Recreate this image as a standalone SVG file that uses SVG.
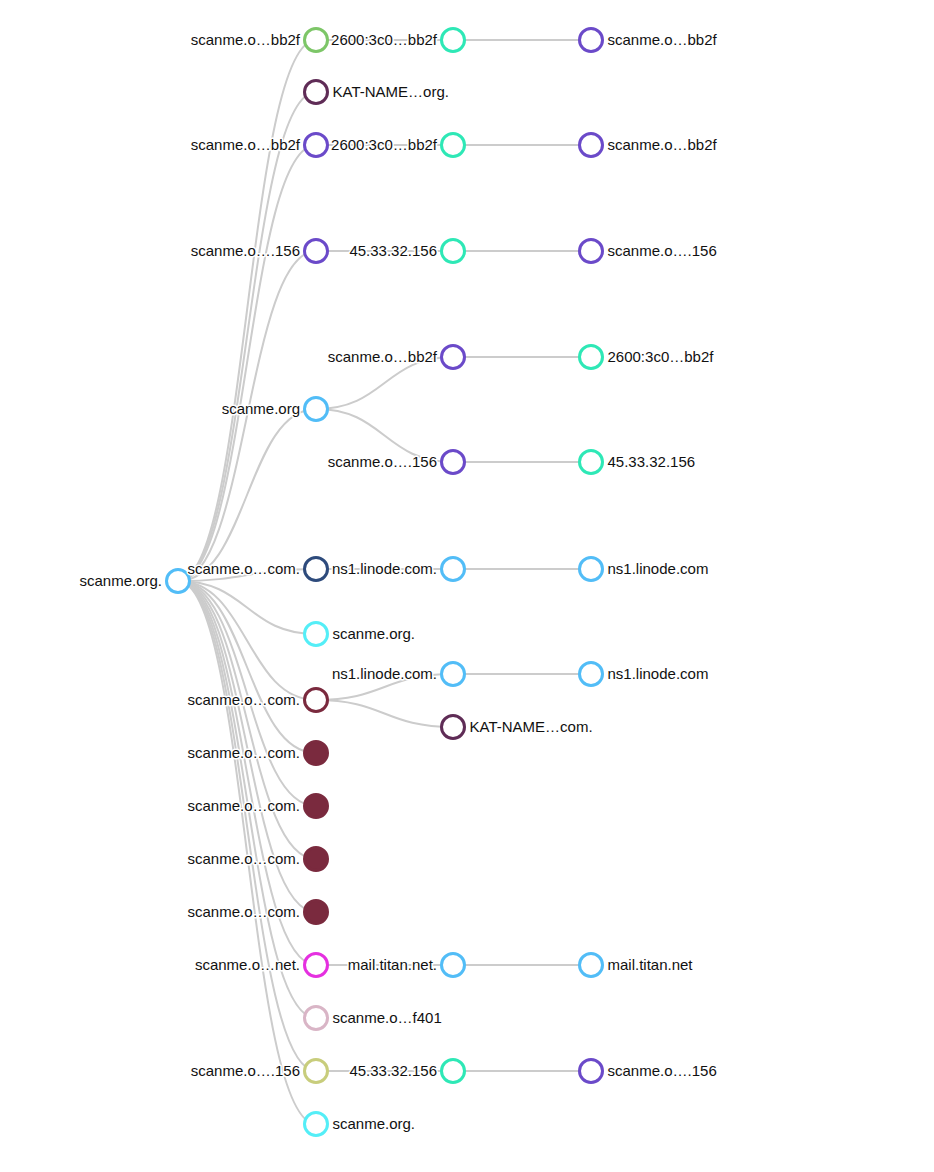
<svg xmlns="http://www.w3.org/2000/svg" width="934" height="1172" viewBox="0 0 934 1172">
<style>
.link{fill:none;stroke:#cccccc;stroke-width:2}
circle{stroke-width:3;fill:#ffffff}
text{font-family:"Liberation Sans",Arial,sans-serif;font-size:15px;fill:#111;paint-order:stroke;stroke:#ffffff;stroke-width:3px;stroke-linejoin:round}
.l{text-anchor:end}
.r{text-anchor:start}
.blue{stroke:#52bdf7}
.green{stroke:#7dc668}
.teal{stroke:#2ee8b6}
.purple{stroke:#6b4ac9}
.dpurple{stroke:#5f2c56}
.navy{stroke:#2e4b7c}
.cyan{stroke:#54eef7}
.maroon{stroke:#7a2a3e}
.mfill{stroke:#7a2a3e;fill:#7a2a3e}
.magenta{stroke:#e530e0}
.pink{stroke:#d9b5c6}
.olive{stroke:#c8cd7c}
</style>
<rect width="934" height="1172" fill="#ffffff"/>
<g id="links">
<path class="link" d="M178,581 C247,581 247,40 316,40"/>
<path class="link" d="M178,581 C247,581 247,92 316,92"/>
<path class="link" d="M178,581 C247,581 247,145 316,145"/>
<path class="link" d="M178,581 C247,581 247,251 316,251"/>
<path class="link" d="M178,581 C247,581 247,409 316,409"/>
<path class="link" d="M178,581 C247,581 247,569 316,569"/>
<path class="link" d="M178,581 C247,581 247,634 316,634"/>
<path class="link" d="M178,581 C247,581 247,700 316,700"/>
<path class="link" d="M178,581 C247,581 247,753 316,753"/>
<path class="link" d="M178,581 C247,581 247,806 316,806"/>
<path class="link" d="M178,581 C247,581 247,859 316,859"/>
<path class="link" d="M178,581 C247,581 247,912 316,912"/>
<path class="link" d="M178,581 C247,581 247,965 316,965"/>
<path class="link" d="M178,581 C247,581 247,1018 316,1018"/>
<path class="link" d="M178,581 C247,581 247,1071 316,1071"/>
<path class="link" d="M178,581 C247,581 247,1124 316,1124"/>
<path class="link" d="M316,40 L453,40"/>
<path class="link" d="M316,145 L453,145"/>
<path class="link" d="M316,251 L453,251"/>
<path class="link" d="M316,409 C384.5,409 384.5,357 453,357"/>
<path class="link" d="M316,409 C384.5,409 384.5,462 453,462"/>
<path class="link" d="M316,569 L453,569"/>
<path class="link" d="M316,700 C384.5,700 384.5,674 453,674"/>
<path class="link" d="M316,700 C384.5,700 384.5,727 453,727"/>
<path class="link" d="M316,965 L453,965"/>
<path class="link" d="M316,1071 L453,1071"/>
<path class="link" d="M453,40 L591,40"/>
<path class="link" d="M453,145 L591,145"/>
<path class="link" d="M453,251 L591,251"/>
<path class="link" d="M453,357 L591,357"/>
<path class="link" d="M453,462 L591,462"/>
<path class="link" d="M453,569 L591,569"/>
<path class="link" d="M453,674 L591,674"/>
<path class="link" d="M453,965 L591,965"/>
<path class="link" d="M453,1071 L591,1071"/>
</g>
<g id="n-root"><circle class="blue" cx="178" cy="581" r="11.5"/><text class="l" x="162" y="581" dy="0.35em">scanme.org.</text></g>
<g id="n1-40"><circle class="green" cx="316" cy="40" r="11.5"/><text class="l" x="300" y="40" dy="0.35em">scanme.o…bb2f</text></g>
<g id="n1-92"><circle class="dpurple" cx="316" cy="92" r="11.5"/><text class="r" x="332.5" y="92" dy="0.35em">KAT-NAME…org.</text></g>
<g id="n1-145"><circle class="purple" cx="316" cy="145" r="11.5"/><text class="l" x="300" y="145" dy="0.35em">scanme.o…bb2f</text></g>
<g id="n1-251"><circle class="purple" cx="316" cy="251" r="11.5"/><text class="l" x="300" y="251" dy="0.35em">scanme.o….156</text></g>
<g id="n1-409"><circle class="blue" cx="316" cy="409" r="11.5"/><text class="l" x="300" y="409" dy="0.35em">scanme.org</text></g>
<g id="n1-569"><circle class="navy" cx="316" cy="569" r="11.5"/><text class="l" x="300" y="569" dy="0.35em">scanme.o…com.</text></g>
<g id="n1-634"><circle class="cyan" cx="316" cy="634" r="11.5"/><text class="r" x="332.5" y="634" dy="0.35em">scanme.org.</text></g>
<g id="n1-700"><circle class="maroon" cx="316" cy="700" r="11.5"/><text class="l" x="300" y="700" dy="0.35em">scanme.o…com.</text></g>
<g id="n1-753"><circle class="mfill" cx="316" cy="753" r="11.5"/><text class="l" x="300" y="753" dy="0.35em">scanme.o…com.</text></g>
<g id="n1-806"><circle class="mfill" cx="316" cy="806" r="11.5"/><text class="l" x="300" y="806" dy="0.35em">scanme.o…com.</text></g>
<g id="n1-859"><circle class="mfill" cx="316" cy="859" r="11.5"/><text class="l" x="300" y="859" dy="0.35em">scanme.o…com.</text></g>
<g id="n1-912"><circle class="mfill" cx="316" cy="912" r="11.5"/><text class="l" x="300" y="912" dy="0.35em">scanme.o…com.</text></g>
<g id="n1-965"><circle class="magenta" cx="316" cy="965" r="11.5"/><text class="l" x="300" y="965" dy="0.35em">scanme.o…net.</text></g>
<g id="n1-1018"><circle class="pink" cx="316" cy="1018" r="11.5"/><text class="r" x="332.5" y="1018" dy="0.35em">scanme.o…f401</text></g>
<g id="n1-1071"><circle class="olive" cx="316" cy="1071" r="11.5"/><text class="l" x="300" y="1071" dy="0.35em">scanme.o….156</text></g>
<g id="n1-1124"><circle class="cyan" cx="316" cy="1124" r="11.5"/><text class="r" x="332.5" y="1124" dy="0.35em">scanme.org.</text></g>
<g id="n2-40"><circle class="teal" cx="453" cy="40" r="11.5"/><text class="l" x="437" y="40" dy="0.35em">2600:3c0…bb2f</text></g>
<g id="n2-145"><circle class="teal" cx="453" cy="145" r="11.5"/><text class="l" x="437" y="145" dy="0.35em">2600:3c0…bb2f</text></g>
<g id="n2-251"><circle class="teal" cx="453" cy="251" r="11.5"/><text class="l" x="437" y="251" dy="0.35em">45.33.32.156</text></g>
<g id="n2-357"><circle class="purple" cx="453" cy="357" r="11.5"/><text class="l" x="437" y="357" dy="0.35em">scanme.o…bb2f</text></g>
<g id="n2-462"><circle class="purple" cx="453" cy="462" r="11.5"/><text class="l" x="437" y="462" dy="0.35em">scanme.o….156</text></g>
<g id="n2-569"><circle class="blue" cx="453" cy="569" r="11.5"/><text class="l" x="437" y="569" dy="0.35em">ns1.linode.com.</text></g>
<g id="n2-674"><circle class="blue" cx="453" cy="674" r="11.5"/><text class="l" x="437" y="674" dy="0.35em">ns1.linode.com.</text></g>
<g id="n2-727"><circle class="dpurple" cx="453" cy="727" r="11.5"/><text class="r" x="469.5" y="727" dy="0.35em">KAT-NAME…com.</text></g>
<g id="n2-965"><circle class="blue" cx="453" cy="965" r="11.5"/><text class="l" x="437" y="965" dy="0.35em">mail.titan.net.</text></g>
<g id="n2-1071"><circle class="teal" cx="453" cy="1071" r="11.5"/><text class="l" x="437" y="1071" dy="0.35em">45.33.32.156</text></g>
<g id="n3-40"><circle class="purple" cx="591" cy="40" r="11.5"/><text class="r" x="607.5" y="40" dy="0.35em">scanme.o…bb2f</text></g>
<g id="n3-145"><circle class="purple" cx="591" cy="145" r="11.5"/><text class="r" x="607.5" y="145" dy="0.35em">scanme.o…bb2f</text></g>
<g id="n3-251"><circle class="purple" cx="591" cy="251" r="11.5"/><text class="r" x="607.5" y="251" dy="0.35em">scanme.o….156</text></g>
<g id="n3-357"><circle class="teal" cx="591" cy="357" r="11.5"/><text class="r" x="607.5" y="357" dy="0.35em">2600:3c0…bb2f</text></g>
<g id="n3-462"><circle class="teal" cx="591" cy="462" r="11.5"/><text class="r" x="607.5" y="462" dy="0.35em">45.33.32.156</text></g>
<g id="n3-569"><circle class="blue" cx="591" cy="569" r="11.5"/><text class="r" x="607.5" y="569" dy="0.35em">ns1.linode.com</text></g>
<g id="n3-674"><circle class="blue" cx="591" cy="674" r="11.5"/><text class="r" x="607.5" y="674" dy="0.35em">ns1.linode.com</text></g>
<g id="n3-965"><circle class="blue" cx="591" cy="965" r="11.5"/><text class="r" x="607.5" y="965" dy="0.35em">mail.titan.net</text></g>
<g id="n3-1071"><circle class="purple" cx="591" cy="1071" r="11.5"/><text class="r" x="607.5" y="1071" dy="0.35em">scanme.o….156</text></g>
</svg>
